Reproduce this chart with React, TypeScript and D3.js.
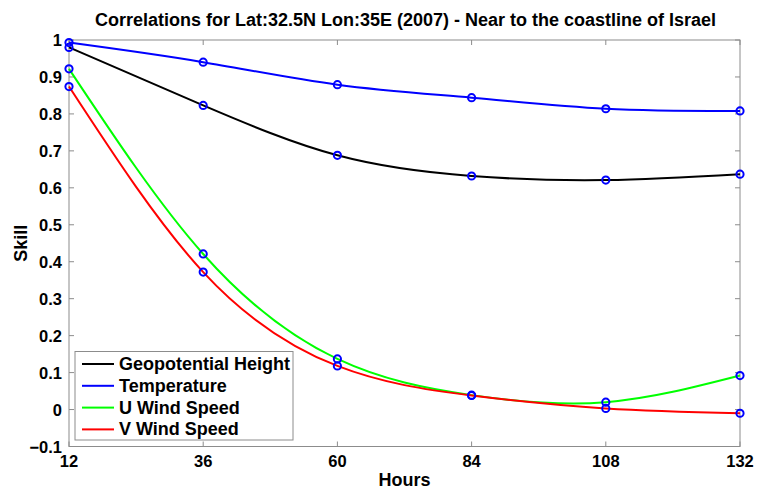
import React from "react";
import * as d3 from "d3";

const hours = [12, 36, 60, 84, 108, 132];
const geopotential = [0.98, 0.823, 0.688, 0.632, 0.621, 0.637];
const temperature = [0.993, 0.94, 0.879, 0.844, 0.814, 0.808];
const uWind = [0.922, 0.421, 0.137, 0.039, 0.02, 0.092];
const vWind = [0.874, 0.372, 0.118, 0.038, 0.003, -0.01];

const seriesNames = ["Geopotential Height", "Temperature", "U Wind Speed", "V Wind Speed"];
const seriesColors = ["#000000", "#0000ff", "#00ff00", "#ff0000"];
const seriesValues = [geopotential, temperature, uWind, vWind];

const yTicks = [-0.1, 0, 0.1, 0.2, 0.3, 0.4, 0.5, 0.6, 0.7, 0.8, 0.9, 1];

const W = 757;
const H = 491;
const margin = { left: 69, right: 17, top: 40, bottom: 44.5 };
const FONT = "'Liberation Sans', Arial, sans-serif";

export default function App() {
  const x = d3.scaleLinear().domain([12, 132]).range([margin.left, W - margin.right]);
  const y = d3.scaleLinear().domain([-0.1, 1]).range([H - margin.bottom, margin.top]);
  const line = d3
    .line<[number, number]>()
    .x((d) => x(d[0]))
    .y((d) => y(d[1]))
    .curve(d3.curveNatural);

  const x0 = x(12), x1 = x(132), y0 = y(-0.1), y1 = y(1);
  const tickLen = 5;
  const axisColor = "#8c8c8c";

  return (
    <svg width={W} height={H} style={{ position: "absolute", left: 0, top: 0, background: "#fff" }}>
      <rect x={0} y={0} width={W} height={H} fill="#fff" />
      {/* ticks on all four sides */}
      {hours.map((h) => (
        <g key={"xt" + h}>
          <line x1={x(h)} x2={x(h)} y1={y0} y2={y0 - tickLen} stroke={axisColor} />
          <line x1={x(h)} x2={x(h)} y1={y1} y2={y1 + tickLen} stroke={axisColor} />
          <text x={x(h)} y={y0 + 20.5} textAnchor="middle" fontFamily={FONT} fontWeight="bold" fontSize={16.5}>
            {h}
          </text>
        </g>
      ))}
      {yTicks.map((t) => (
        <g key={"yt" + t}>
          <line x1={x0} x2={x0 + tickLen} y1={y(t)} y2={y(t)} stroke={axisColor} />
          <line x1={x1} x2={x1 - tickLen} y1={y(t)} y2={y(t)} stroke={axisColor} />
          <text x={x0 - 7} y={y(t) + 6} textAnchor="end" fontFamily={FONT} fontWeight="bold" fontSize={16.5}>
            {t === 0 || t === 1 ? String(t) : d3.format(".1f")(t)}
          </text>
        </g>
      ))}
      <rect x={x0} y={y1} width={x1 - x0} height={y0 - y1} fill="none" stroke={axisColor} />

      {seriesValues.map((vals, i) => {
        const pts = hours.map((h, j) => [h, vals[j]] as [number, number]);
        return (
          <g key={seriesNames[i]}>
            <path d={line(pts) || ""} fill="none" stroke={seriesColors[i]} strokeWidth={2} />
            {pts.map((p, j) => (
              <circle key={j} cx={x(p[0])} cy={y(p[1])} r={3.6} fill="none" stroke="#0000ff" strokeWidth={2} />
            ))}
          </g>
        );
      })}

      {/* legend */}
      <g>
        <rect x={75} y={351.5} width={218} height={88.5} fill="#fff" stroke={axisColor} />
        {seriesNames.map((name, i) => {
          const cy = 364 + i * 21.8;
          return (
            <g key={"lg" + name}>
              <line x1={82} x2={114} y1={cy} y2={cy} stroke={seriesColors[i]} strokeWidth={2} />
              <text x={119} y={cy + 6} fontFamily={FONT} fontWeight="bold" fontSize={18}>
                {name}
              </text>
            </g>
          );
        })}
      </g>

      <text x={(x0 + x1) / 2 + 1} y={26} textAnchor="middle" fontFamily={FONT} fontWeight="bold" fontSize={18}>
        Correlations for Lat:32.5N Lon:35E (2007) - Near to the coastline of Israel
      </text>
      <text x={(x0 + x1) / 2} y={486} textAnchor="middle" fontFamily={FONT} fontWeight="bold" fontSize={18}>
        Hours
      </text>
      <text
        transform={`translate(27, ${(y0 + y1) / 2}) rotate(-90)`}
        textAnchor="middle"
        fontFamily={FONT}
        fontWeight="bold"
        fontSize={18}
      >
        Skill
      </text>
    </svg>
  );
}
